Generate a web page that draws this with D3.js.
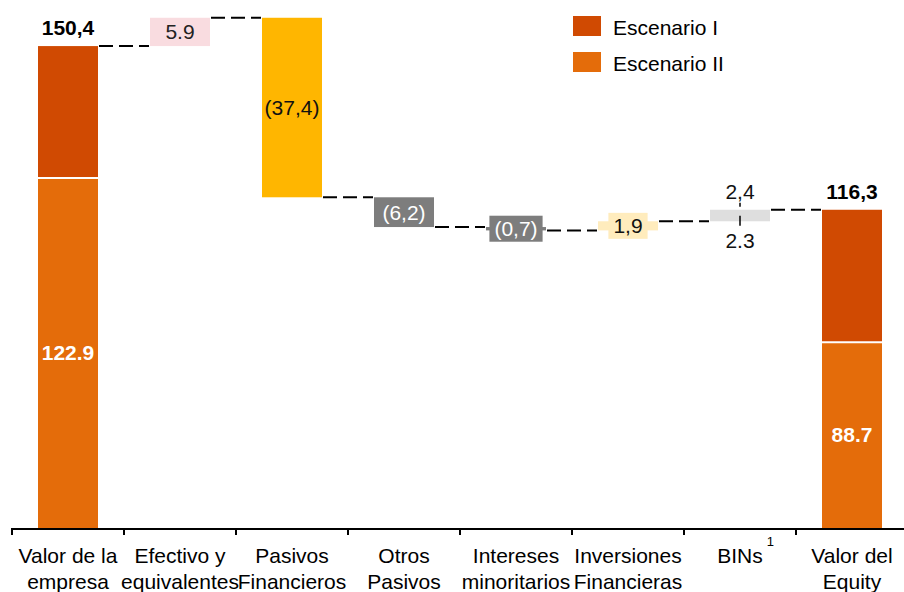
<!DOCTYPE html>
<html>
<head>
<meta charset="utf-8">
<script src="https://cdn.jsdelivr.net/npm/d3@7"></script>
<style>
  html, body { margin: 0; padding: 0; background: #ffffff; }
  svg { display: block; font-family: "Liberation Sans", Arial, Helvetica, sans-serif; }
</style>
</head>
<body>
<svg id="chart" width="904" height="592"></svg>
<script>
// ---- data -------------------------------------------------------------
const categories = [
  "Valor de la empresa", "Efectivo y equivalentes", "Pasivos Financieros",
  "Otros Pasivos", "Intereses minoritarios", "Inversiones Financieras",
  "BINs", "Valor del Equity"
];
const categoryLines = [
  ["Valor de la", "empresa"], ["Efectivo y", "equivalentes"], ["Pasivos", "Financieros"],
  ["Otros", "Pasivos"], ["Intereses", "minoritarios"], ["Inversiones", "Financieras"],
  ["BINs"], ["Valor del", "Equity"]
];

// Total bars (first and last category): Escenario I on top of Escenario II
const totalCategories = ["Valor de la empresa", "Valor del Equity"];
const escenarioI = [150.4, 116.3];
const escenarioII = [122.9, 88.7];
const totalLabels = ["150,4", "116,3"];
const escenarioIILabels = ["122.9", "88.7"];

// Bridge steps between the two totals
const stepCategories = categories.slice(1, 7);
const stepValues = [5.9, -37.4, -6.2, -0.7, 1.9, 2.4];
const stepLabels = ["5.9", "(37,4)", "(6,2)", "(0,7)", "1,9", "2,4"];
const binsEscenarioIILabel = "2.3";

const seriesNames = ["Escenario I", "Escenario II"];

// ---- styles -----------------------------------------------------------
const seriesColors = ["#D04A02", "#E46C0A"];
const stepColors = ["#F9DCE0", "#FFB600", "#7D7D7D", "#7D7D7D", "#FFECBD", "#DEDEDE"];
const stepTextColors = ["#222222", "#111111", "#ffffff", "#ffffff", "#111111", "#111111"];
const stepLabelMode = ["inside", "inside", "inside", "box", "box", "split"];
const FS = 21;

// ---- layout -----------------------------------------------------------
const W = 904, H = 592;
const svg = d3.select("#chart");

const x = d3.scaleBand().domain(categories).range([12, 908]).paddingInner(0).paddingOuter(0);
const y = d3.scaleLinear().domain([50, 160]).range([528, 0]);
const barW = 60;
const barX = c => x(c) + (x.bandwidth() - barW) / 2;
const cx = c => x(c) + x.bandwidth() / 2;

// ---- total bars -------------------------------------------------------
totalCategories.forEach((c, i) => {
  const g = svg.append("g");
  // Escenario II from the base of the axis
  g.append("rect")
    .attr("x", barX(c)).attr("width", barW)
    .attr("y", y(escenarioII[i])).attr("height", y(y.domain()[0]) - y(escenarioII[i]))
    .attr("fill", seriesColors[1]);
  // Escenario I stacked above up to the total
  g.append("rect")
    .attr("x", barX(c)).attr("width", barW)
    .attr("y", y(escenarioI[i])).attr("height", y(escenarioII[i]) - y(escenarioI[i]))
    .attr("fill", seriesColors[0]);
  // separator between the two segments
  g.append("line")
    .attr("x1", barX(c)).attr("x2", barX(c) + barW)
    .attr("y1", y(escenarioII[i])).attr("y2", y(escenarioII[i]))
    .attr("stroke", "#ffffff").attr("stroke-width", 2);
  g.append("text")
    .attr("x", cx(c)).attr("y", y(escenarioI[i]) - 11)
    .attr("text-anchor", "middle").attr("font-size", FS).attr("font-weight", "bold")
    .attr("fill", "#000").text(totalLabels[i]);
  g.append("text")
    .attr("x", cx(c)).attr("y", (y(escenarioII[i]) + y(y.domain()[0])) / 2)
    .attr("dy", "0.35em")
    .attr("text-anchor", "middle").attr("font-size", FS).attr("font-weight", "bold")
    .attr("fill", "#fff").text(escenarioIILabels[i]);
});

// ---- bridge steps -----------------------------------------------------
let level = escenarioI[0];
const levels = [level];
const steps = stepValues.map((v, i) => {
  const from = level, to = level + v;
  level = to;
  levels.push(to);
  return { c: stepCategories[i], from, to, i };
});
levels.push(escenarioI[1]);

const stepG = svg.append("g");
steps.forEach(s => {
  const i = s.i;
  const top = y(Math.max(s.from, s.to));
  const bottom = y(Math.min(s.from, s.to));
  const mid = (top + bottom) / 2;
  stepG.append("rect")
    .attr("x", barX(s.c)).attr("width", barW)
    .attr("y", top).attr("height", bottom - top)
    .attr("fill", stepColors[i]);

  if (stepLabelMode[i] === "inside" || stepLabelMode[i] === "box") {
    const t = stepG.append("text")
      .attr("x", cx(s.c)).attr("y", mid).attr("dy", "0.35em")
      .attr("text-anchor", "middle").attr("font-size", FS)
      .attr("fill", stepTextColors[i]).text(stepLabels[i]);
    if (stepLabelMode[i] === "box") {
      const bb = t.node().getBBox();
      stepG.insert("rect", function () { return t.node(); })
        .attr("x", bb.x - 5).attr("width", bb.width + 10)
        .attr("y", mid - 13).attr("height", 26)
        .attr("fill", stepColors[i]);
    }
  } else {
    // Escenario I value above, Escenario II value below, joined by a tick
    stepG.append("line")
      .attr("x1", cx(s.c)).attr("x2", cx(s.c))
      .attr("y1", top - 7).attr("y2", bottom + 6)
      .attr("stroke", "#000").attr("stroke-width", 1.5)
      .attr("stroke-dasharray", "4,9,10");
    stepG.append("text")
      .attr("x", cx(s.c)).attr("y", top - 10.5)
      .attr("text-anchor", "middle").attr("font-size", FS)
      .attr("fill", stepTextColors[i]).text(stepLabels[i]);
    stepG.append("text")
      .attr("x", cx(s.c)).attr("y", bottom + 27)
      .attr("text-anchor", "middle").attr("font-size", FS)
      .attr("fill", stepTextColors[i]).text(binsEscenarioIILabel);
  }
});

// ---- connectors -------------------------------------------------------
const connG = svg.insert("g", ":first-child");
for (let k = 0; k < categories.length - 1; k++) {
  const yy = y(levels[k]);
  connG.append("line")
    .attr("x1", barX(categories[k]) + barW + 1)
    .attr("x2", barX(categories[k + 1]) - 1)
    .attr("y1", yy).attr("y2", yy)
    .attr("stroke", "#000").attr("stroke-width", 2)
    .attr("stroke-dasharray", "14,6");
}

// ---- x axis -----------------------------------------------------------
const axisG = svg.append("g");
axisG.append("line")
  .attr("x1", x.range()[0]).attr("x2", W)
  .attr("y1", 529).attr("y2", 529)
  .attr("stroke", "#000").attr("stroke-width", 2);
categories.forEach(c => {
  axisG.append("line")
    .attr("x1", x(c)).attr("x2", x(c))
    .attr("y1", 528).attr("y2", 535)
    .attr("stroke", "#000").attr("stroke-width", 2);
});
categories.forEach((c, i) => {
  const t = axisG.append("text")
    .attr("x", cx(c)).attr("y", 563)
    .attr("text-anchor", "middle").attr("font-size", FS).attr("fill", "#000");
  categoryLines[i].forEach((ln, j) => {
    t.append("tspan").attr("x", cx(c)).attr("dy", j === 0 ? 0 : 26).text(ln);
  });
  if (c === "BINs") {
    const bb = t.node().getBBox();
    axisG.append("text")
      .attr("x", bb.x + bb.width + 4).attr("y", 546)
      .attr("font-size", 13).attr("fill", "#000").text("1");
  }
});

// ---- legend -----------------------------------------------------------
const legend = svg.append("g");
seriesNames.forEach((name, i) => {
  legend.append("rect")
    .attr("x", 573).attr("y", 16 + i * 36).attr("width", 28).attr("height", 20)
    .attr("fill", seriesColors[i]);
  legend.append("text")
    .attr("x", 613).attr("y", 35 + i * 36)
    .attr("font-size", FS).attr("fill", "#000").text(name);
});
</script>
</body>
</html>
